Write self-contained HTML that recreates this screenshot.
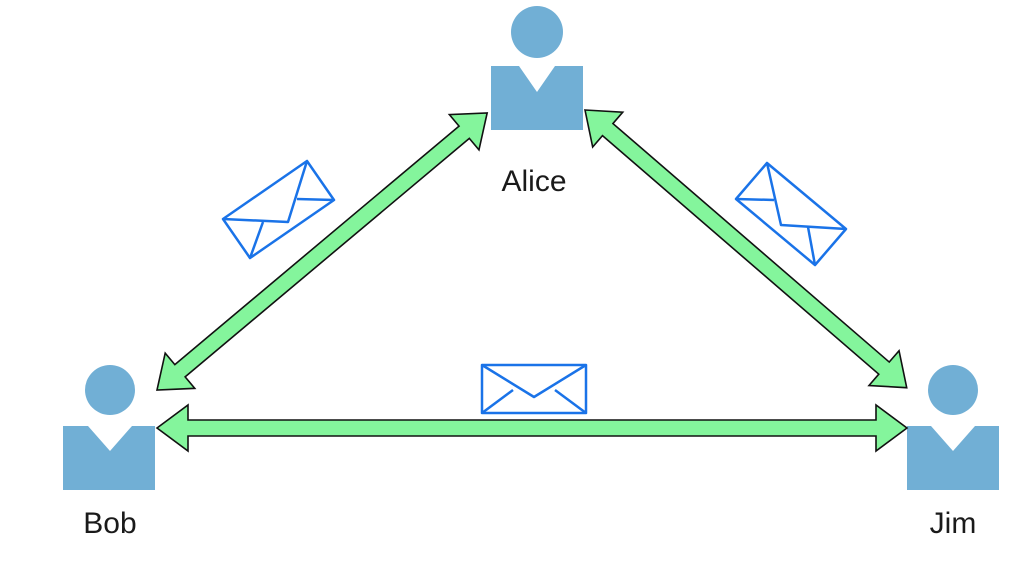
<!DOCTYPE html>
<html><head><meta charset="utf-8"><style>
html,body{margin:0;padding:0;background:#fff;}
svg{display:block;}
text{font-family:"Liberation Sans",Arial,sans-serif;font-size:30px;fill:#1a1a1a;}
</style></head><body>
<svg width="1026" height="570" viewBox="0 0 1026 570" xmlns="http://www.w3.org/2000/svg">
<rect width="1026" height="570" fill="#fff"/>
<g fill="#71afd5">
<circle cx="537" cy="32" r="26"/>
<path d="M491 66 H519 L537 92 L555 66 H583 V130 H491 Z"/>
<circle cx="110" cy="390" r="25"/>
<path d="M63 426 H88 L110 451 L132 426 H155 V490 H63 Z"/>
<circle cx="953" cy="390" r="25"/>
<path d="M907 426 H931 L953 451 L975 426 H999 V490 H907 Z"/>
</g>
<text x="534" y="191" text-anchor="middle">Alice</text>
<text x="110" y="533" text-anchor="middle">Bob</text>
<text x="953" y="533" text-anchor="middle">Jim</text>
<g fill="#84f59c" stroke="#111" stroke-width="1.6" stroke-linejoin="miter">
<polygon transform="translate(157,390) rotate(-40)" points="0,0 30,-23 30,-8 401,-8 401,-23 431,0 401,23 401,8 30,8 30,23"/>
<polygon transform="translate(585,110) rotate(40.8)" points="0,0 30,-23 30,-8 395,-8 395,-23 425,0 395,23 395,8 30,8 30,23"/>
<polygon transform="translate(157,428)" points="0,0 31,-23 31,-8 719,-8 719,-23 750,0 719,23 719,8 31,8 31,23"/>
</g>
<g fill="#fff" stroke="#1a73e8" stroke-width="2.5" stroke-linejoin="round">
<rect x="482" y="365" width="104" height="48"/>
<polyline fill="none" points="482,365 534,397 586,365"/>
<line x1="482" y1="413" x2="513" y2="390"/>
<line x1="586" y1="413" x2="555" y2="390"/>
<polygon points="223,219 307,161 334,200 250,258"/>
<polyline fill="none" points="223,219 288,222 307,161"/>
<line x1="297" y1="199" x2="334" y2="200"/>
<line x1="263" y1="222" x2="250" y2="258"/>
<polygon points="767,163 846,229 815,265 736,199"/>
<polyline fill="none" points="767,163 781,225 846,229"/>
<line x1="736" y1="199" x2="774" y2="200"/>
<line x1="815" y1="265" x2="808" y2="227"/>
</g>
</svg>
</body></html>
